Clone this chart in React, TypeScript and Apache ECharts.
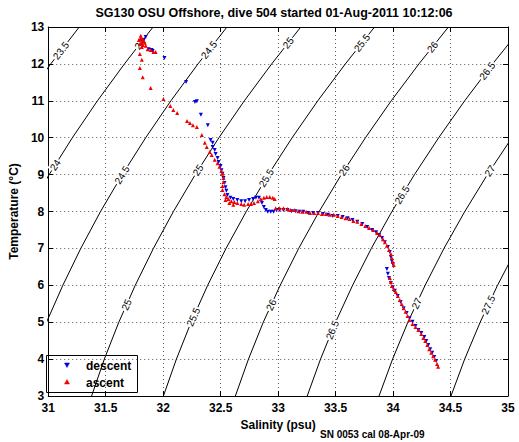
import React, { useEffect, useRef } from "react";
import * as echarts from "echarts";

// ---------- texts ----------
const TITLE = "SG130 OSU Offshore, dive 504 started 01-Aug-2011 10:12:06";
const FOOTER = "SN 0053 cal 08-Apr-09";
const X_NAME = "Salinity (psu)";
const Y_NAME = "Temperature (°C)";
const SERIES_NAMES = ["descent", "ascent"];

// ---------- axes ----------
const X_MIN = 31, X_MAX = 35, X_STEP = 0.5;
const Y_MIN = 3, Y_MAX = 13, Y_STEP = 1;

// ---------- density (sigma-theta) contours: salinity at each temperature ----------
const CONTOUR_T = [3, 4, 5, 6, 7, 8, 9, 10, 11, 12, 13];
const SIGMA_LEVELS = ["23.5", "24", "24.5", "25", "25.5", "26", "26.5", "27", "27.5"];
const SIGMA_23_5 = [29.501, 29.607, 29.728, 29.866, 30.019, 30.188, 30.373, 30.573, 30.789, 31.022, 31.27];
const SIGMA_24_0 = [30.126, 30.234, 30.357, 30.496, 30.651, 30.821, 31.008, 31.21, 31.428, 31.663, 31.912];
const SIGMA_24_5 = [30.752, 30.861, 30.985, 31.127, 31.283, 31.455, 31.644, 31.848, 32.067, 32.303, 32.555];
const SIGMA_25_0 = [31.377, 31.488, 31.614, 31.757, 31.915, 32.089, 32.279, 32.485, 32.706, 32.944, 33.197];
const SIGMA_25_5 = [32.002, 32.115, 32.243, 32.387, 32.547, 32.723, 32.915, 33.122, 33.345, 33.585, 33.839];
const SIGMA_26_0 = [32.628, 32.742, 32.871, 33.018, 33.179, 33.357, 33.55, 33.76, 33.984, 34.225, 34.482];
const SIGMA_26_5 = [33.253, 33.369, 33.5, 33.648, 33.811, 33.99, 34.186, 34.397, 34.623, 34.866, 35.124];
const SIGMA_27_0 = [33.878, 33.996, 34.129, 34.279, 34.443, 34.624, 34.821, 35.034, 35.262, 35.507, 35.767];
const SIGMA_27_5 = [34.504, 34.623, 34.758, 34.909, 35.076, 35.258, 35.457, 35.672, 35.901, 36.148, 36.409];
const CONTOUR_S = [SIGMA_23_5, SIGMA_24_0, SIGMA_24_5, SIGMA_25_0, SIGMA_25_5, SIGMA_26_0, SIGMA_26_5, SIGMA_27_0, SIGMA_27_5];

// contour label placements: [level, temperature]
const CONTOUR_LABELS: [string, number][] = [
  ["23.5", 12.36],
  ["24", 12.54], ["24", 9.26],
  ["24.5", 12.38], ["24.5", 8.99],
  ["25", 12.57], ["25", 9.12], ["25", 5.47],
  ["25.5", 12.57], ["25.5", 8.91], ["25.5", 5.14],
  ["26", 12.46], ["26", 9.12], ["26", 5.47],
  ["26.5", 11.81], ["26.5", 8.45], ["26.5", 4.79],
  ["27", 9.1], ["27", 5.51],
  ["27.5", 5.47],
];

// ---------- glider profile: [salinity, temperature] ----------
const DESCENT: [number, number][] = [
  [31.848, 12.73], [31.831, 12.65], [31.874, 12.4], [31.899, 12.38], [31.908, 12.35], [32.011, 12.16],
  [32.199, 11.51], [32.276, 10.97], [32.293, 10.99], [32.328, 10.62], [32.388, 10.34], [32.413, 9.94],
  [32.43, 9.86], [32.43, 9.75], [32.448, 9.67], [32.456, 9.56], [32.473, 9.45], [32.482, 9.34],
  [32.499, 9.23], [32.507, 9.12], [32.516, 9.02], [32.525, 8.91], [32.533, 8.77], [32.542, 8.66],
  [32.55, 8.56], [32.559, 8.45], [32.585, 8.37], [32.61, 8.34], [32.645, 8.31], [32.679, 8.28],
  [32.713, 8.28], [32.747, 8.31], [32.782, 8.34], [32.807, 8.37], [32.833, 8.37], [32.859, 8.23],
  [32.876, 8.12], [32.893, 8.04], [32.91, 7.99], [32.936, 7.99], [32.961, 7.99], [32.987, 8.04],
  [33.013, 8.04], [33.047, 8.04], [33.081, 8.04], [33.116, 8.01], [33.15, 8.01], [33.184, 7.99],
  [33.218, 7.99], [33.261, 7.96], [33.304, 7.96], [33.347, 7.96], [33.39, 7.93], [33.433, 7.91],
  [33.475, 7.88], [33.518, 7.88], [33.561, 7.85], [33.604, 7.82], [33.647, 7.77], [33.689, 7.72],
  [33.732, 7.66], [33.775, 7.58], [33.818, 7.5], [33.852, 7.44], [33.878, 7.36], [33.904, 7.28],
  [33.929, 7.17], [33.955, 7.04], [33.972, 6.9], [33.981, 6.77], [33.989, 6.66], [33.998, 6.58],
  [33.946, 6.44], [33.955, 6.31], [33.964, 6.2], [33.981, 6.06], [33.998, 5.95], [34.015, 5.85],
  [34.041, 5.71], [34.066, 5.55], [34.092, 5.38], [34.118, 5.25], [34.143, 5.11], [34.169, 5.01],
  [34.195, 4.9], [34.221, 4.79], [34.246, 4.71], [34.272, 4.6], [34.289, 4.49], [34.306, 4.38],
  [34.323, 4.27], [34.34, 4.17], [34.358, 4.06], [34.375, 3.95],
];

const ASCENT: [number, number][] = [
  [31.788, 12.65], [31.805, 12.7], [31.814, 12.59], [31.822, 12.51], [31.797, 12.54], [31.831, 12.62],
  [31.814, 12.46], [31.839, 12.57], [31.848, 12.49], [31.805, 12.76], [31.822, 12.67],
  [31.865, 12.4], [31.891, 12.38], [31.916, 12.32], [31.934, 12.32],
  [31.797, 12.27], [31.814, 12.11], [31.797, 11.89], [31.822, 11.64], [31.891, 11.35], [32.002, 11.05],
  [32.062, 10.86], [32.088, 10.75], [32.122, 10.67], [32.208, 10.45], [32.233, 10.4], [32.259, 10.34],
  [32.293, 10.29], [32.336, 10.07], [32.362, 9.86], [32.379, 9.75], [32.405, 9.61], [32.422, 9.53],
  [32.448, 9.4], [32.473, 9.31], [32.49, 9.21], [32.507, 9.1], [32.516, 9.02], [32.525, 8.91],
  [32.525, 8.8], [32.516, 8.69], [32.516, 8.58], [32.533, 8.47], [32.55, 8.39], [32.567, 8.34],
  [32.593, 8.28], [32.619, 8.26], [32.645, 8.23], [32.679, 8.2], [32.705, 8.18], [32.739, 8.2],
  [32.764, 8.2], [32.79, 8.23], [32.824, 8.28], [32.85, 8.34], [32.876, 8.37], [32.901, 8.39],
  [32.927, 8.39], [32.953, 8.37], [32.97, 8.34], [32.542, 8.31], [32.576, 8.23], [32.61, 8.18],
  [32.979, 8.09], [33.013, 8.09], [33.047, 8.09], [33.081, 8.07], [33.107, 8.04], [33.141, 8.04],
  [33.176, 8.01], [33.21, 7.99], [33.244, 7.99], [33.278, 7.96], [33.313, 7.96], [33.347, 7.96],
  [33.381, 7.93], [33.415, 7.93], [33.45, 7.91], [33.484, 7.91], [33.518, 7.88], [33.552, 7.85],
  [33.587, 7.82], [33.621, 7.8], [33.655, 7.74], [33.689, 7.72], [33.724, 7.66], [33.758, 7.61],
  [33.792, 7.55], [33.827, 7.5], [33.861, 7.42], [33.886, 7.36], [33.912, 7.25], [33.929, 7.17],
  [33.946, 7.07], [33.964, 6.96], [33.981, 6.85], [33.989, 6.74], [33.998, 6.63], [34.006, 6.55],
  [33.972, 6.2], [33.981, 6.09], [33.989, 5.98], [34.006, 5.9], [34.024, 5.82], [34.041, 5.71],
  [34.058, 5.6], [34.075, 5.49], [34.092, 5.38], [34.109, 5.28], [34.126, 5.17], [34.143, 5.06],
  [34.169, 4.95], [34.195, 4.87], [34.221, 4.79], [34.246, 4.68], [34.263, 4.57], [34.28, 4.49],
  [34.298, 4.38], [34.315, 4.27], [34.332, 4.17], [34.349, 4.08], [34.366, 3.98], [34.383, 3.87],
  [34.392, 3.79],
];

// ---------- layout / style ----------
const W = 519, H = 442;
const GRID = { left: 41, top: 27, right: 11, bottom: 46 };
const FONT = '"Liberation Sans", Arial, Helvetica, sans-serif';
const BLUE = "#0000e0";
const RED = "#f00000";
const TRI_UP = "path://M5,0L10,9L0,9Z";
const TRI_DOWN = "path://M0,0L10,0L5,9Z";
const LEGEND_BOX = { x: 46, y: 355, w: 91, h: 37 };

function interpS(levelIdx: number, t: number): { s: number; dsdt: number } {
  const arr = CONTOUR_S[levelIdx];
  let i = 0;
  while (i < CONTOUR_T.length - 2 && t > CONTOUR_T[i + 1]) i++;
  const t0 = CONTOUR_T[i], t1 = CONTOUR_T[i + 1];
  const f = (t - t0) / (t1 - t0);
  return { s: arr[i] + f * (arr[i + 1] - arr[i]), dsdt: (arr[i + 1] - arr[i]) / (t1 - t0) };
}

function buildOption() {
  const gw = W - GRID.left - GRID.right;
  const gh = H - GRID.top - GRID.bottom;
  const pxPerS = gw / (X_MAX - X_MIN);
  const pxPerT = gh / (Y_MAX - Y_MIN);

  const axisText = { color: "#000", fontFamily: FONT, fontWeight: "bold" as const, fontSize: 12 };
  const baseX = {
    type: "value" as const, min: X_MIN, max: X_MAX, interval: X_STEP,
    axisLine: { show: true, onZero: false, lineStyle: { color: "#000", width: 1 } },
    axisTick: { show: true, inside: true, length: 5, lineStyle: { color: "#000" } },
  };
  const baseY = {
    type: "value" as const, min: Y_MIN, max: Y_MAX, interval: Y_STEP,
    axisLine: { show: true, onZero: false, lineStyle: { color: "#000", width: 1 } },
    axisTick: { show: true, inside: true, length: 5, lineStyle: { color: "#000" } },
  };
  const split = { show: true, lineStyle: { color: "#555", width: 1, type: [1, 3] as any } };

  const contourSeries = SIGMA_LEVELS.map((lv, li) => ({
    type: "line" as const,
    name: "sigma " + lv,
    data: CONTOUR_T.map((t, i) => [CONTOUR_S[li][i], t]),
    showSymbol: false,
    symbol: "none",
    clip: true,
    silent: true,
    z: 2,
    lineStyle: { color: "#000", width: 1 },
  }));

  // [salinity, temperature, angle in degrees]
  const labelData = CONTOUR_LABELS.map(([lv, t]) => {
    const li = SIGMA_LEVELS.indexOf(lv);
    const { s, dsdt } = interpS(li, t);
    const ang = (Math.atan2(pxPerT, dsdt * pxPerS) * 180) / Math.PI;
    return [s, t, ang];
  });

  const legendText = (text: string, y: number) => ({
    type: "text", x: 40, y,
    style: { text, align: "left", verticalAlign: "middle", font: `bold 12px ${FONT}`, fill: "#000" },
  });
  const tri = (points: number[][], fill: string) => ({
    type: "polygon", shape: { points }, style: { fill, stroke: fill, lineWidth: 0.5 },
  });

  return {
    animation: false,
    backgroundColor: "#fff",
    grid: { left: GRID.left, top: GRID.top, right: GRID.right, bottom: GRID.bottom, containLabel: false },
    xAxis: [
      {
        ...baseX, position: "bottom",
        name: X_NAME, nameLocation: "middle", nameGap: 17,
        nameTextStyle: { ...axisText, verticalAlign: "top" },
        axisLabel: { ...axisText, margin: 6, lineHeight: 12, showMinLabel: true, showMaxLabel: true },
        splitLine: split,
      },
      { ...baseX, position: "top", axisLabel: { show: false }, splitLine: { show: false } },
    ],
    yAxis: [
      {
        ...baseY, position: "left",
        name: Y_NAME, nameLocation: "middle", nameGap: 27,
        nameTextStyle: { ...axisText },
        axisLabel: { ...axisText, margin: 4, lineHeight: 12, showMinLabel: true, showMaxLabel: true },
        splitLine: split,
      },
      { ...baseY, position: "right", axisLabel: { show: false }, splitLine: { show: false } },
    ],
    graphic: [
      {
        type: "text", x: 274, y: 13, z: 10,
        style: { text: TITLE, align: "center", verticalAlign: "middle", font: `bold 12.5px ${FONT}`, fill: "#000" },
      },
      {
        type: "text", x: 320, y: 434, z: 10,
        style: { text: FOOTER, align: "left", verticalAlign: "middle", font: `bold 10px ${FONT}`, fill: "#000" },
      },
      {
        type: "group", x: LEGEND_BOX.x, y: LEGEND_BOX.y, z: 20,
        children: [
          {
            type: "rect",
            shape: { x: 0.5, y: 0.5, width: LEGEND_BOX.w, height: LEGEND_BOX.h },
            style: { fill: "#fff", stroke: "#000", lineWidth: 1 },
          },
          tri([[18.5, 8], [23.5, 8], [21, 12.5]], BLUE),
          legendText(SERIES_NAMES[0], 10.5),
          tri([[21, 24.5], [23.5, 29], [18.5, 29]], RED),
          legendText(SERIES_NAMES[1], 27.5),
        ],
      },
    ],
    series: [
      ...contourSeries,
      {
        type: "custom",
        name: "contour labels",
        data: labelData,
        encode: { x: 0, y: 1 },
        silent: true,
        clip: false,
        z: 3,
        renderItem: (params: any, api: any) => {
          const p = api.coord([api.value(0), api.value(1)]);
          const ang = api.value(2);
          return {
            type: "text",
            x: p[0],
            y: p[1],
            rotation: (ang * Math.PI) / 180,
            style: {
              text: CONTOUR_LABELS[params.dataIndex][0],
              fill: "#000",
              font: `10px ${FONT}`,
              align: "center",
              verticalAlign: "middle",
              backgroundColor: "#fff",
              padding: [0, 1],
            },
          };
        },
      },
      {
        type: "scatter",
        name: SERIES_NAMES[0],
        data: DESCENT,
        symbol: TRI_DOWN,
        symbolSize: [4, 4],
        itemStyle: { color: BLUE, opacity: 1 },
        z: 4,
      },
      {
        type: "scatter",
        name: SERIES_NAMES[1],
        data: ASCENT,
        symbol: TRI_UP,
        symbolSize: [4, 4],
        itemStyle: { color: RED, opacity: 1 },
        z: 5,
      },
    ],
  };
}

export default function App() {
  const ref = useRef<HTMLDivElement>(null);
  useEffect(() => {
    if (!ref.current) return;
    const chart = echarts.init(ref.current, null, { renderer: "svg" });
    chart.setOption(buildOption() as any);
    return () => chart.dispose();
  }, []);
  return (
    <div
      ref={ref}
      style={{ position: "fixed", left: 0, top: 0, width: W, height: H, background: "#fff" }}
    />
  );
}
